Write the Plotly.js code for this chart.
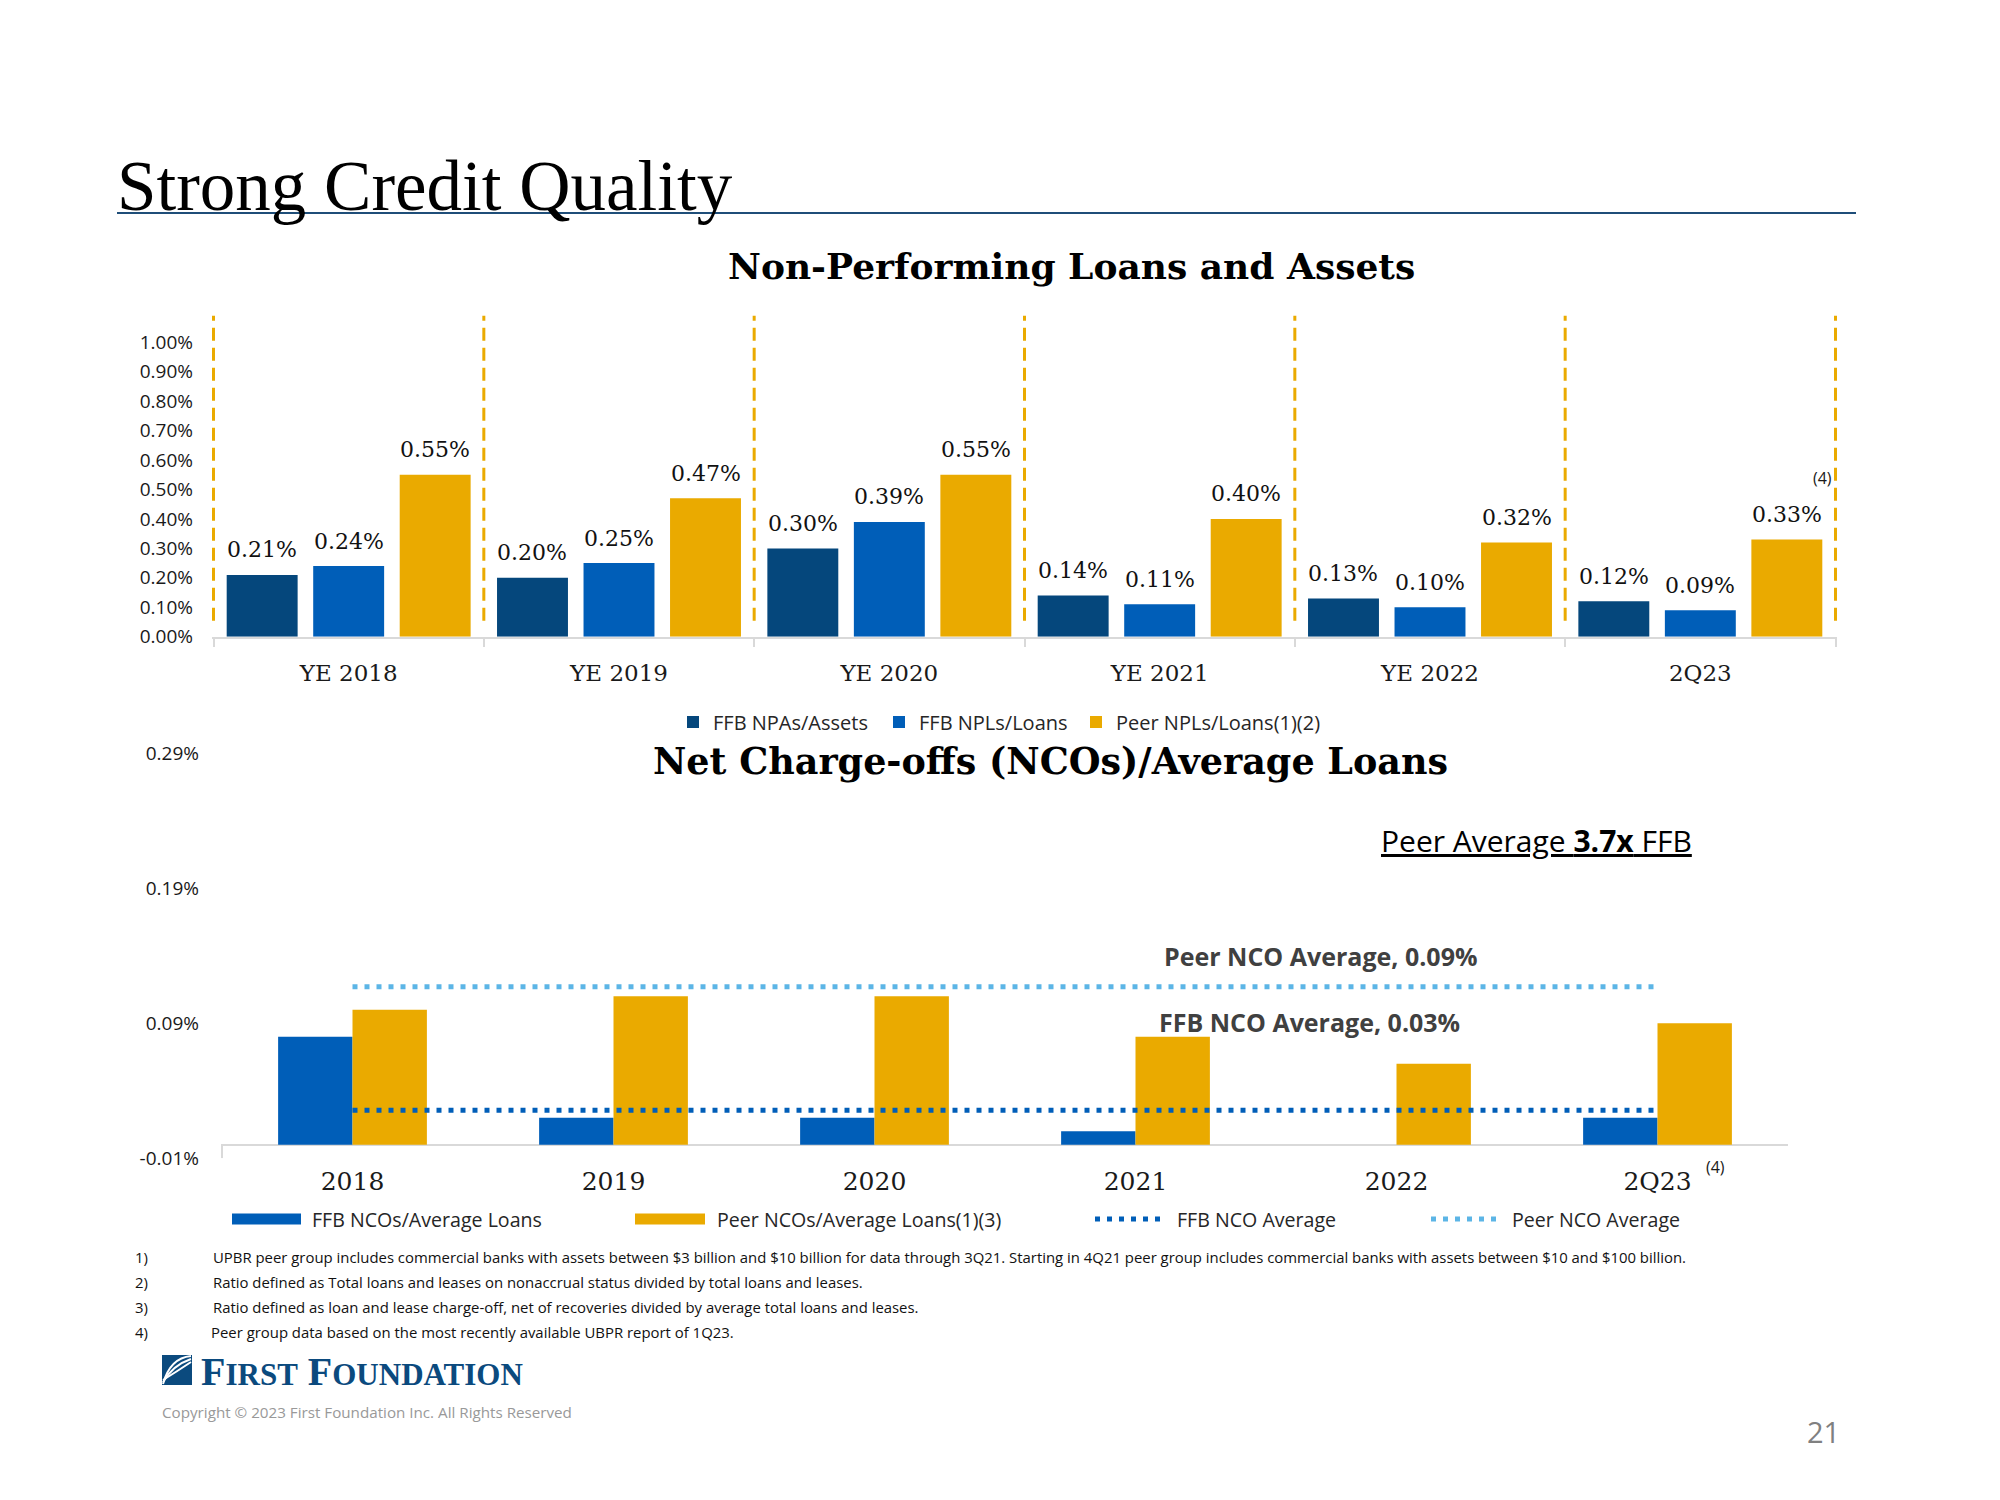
<!DOCTYPE html>
<html>
<head>
<meta charset="utf-8">
<script src="https://cdn.plot.ly/plotly-3.0.1.min.js"></script>
<style>html,body{margin:0;padding:0;background:#fff}#chart{width:2000px;height:1500px}</style>
</head>
<body>
<div id="chart"></div>
<script>
// ---------------- DATA: Non-Performing Loans and Assets ----------------
const npaCategories = ['YE 2018', 'YE 2019', 'YE 2020', 'YE 2021', 'YE 2022', '2Q23'];
const ffbNpaAssets  = [0.21, 0.20, 0.30, 0.14, 0.13, 0.12];
const ffbNplLoans   = [0.24, 0.25, 0.39, 0.11, 0.10, 0.09];
const peerNplLoans  = [0.55, 0.47, 0.55, 0.40, 0.32, 0.33];
const npaSeriesNames = ['FFB NPAs/Assets', 'FFB NPLs/Loans', 'Peer NPLs/Loans(1)(2)'];

// ---------------- DATA: Net Charge-offs / Average Loans ----------------
const ncoCategories = ['2018', '2019', '2020', '2021', '2022', '2Q23'];
const ffbNco        = [0.08, 0.02, 0.02, 0.01, 0.00, 0.02];
const peerNco       = [0.10, 0.11, 0.11, 0.08, 0.06, 0.09];
const ffbNcoAvg     = [0.03, 0.03, 0.03, 0.03, 0.03, 0.03];
const peerNcoAvg    = [0.09, 0.09, 0.09, 0.09, 0.09, 0.09];
const ncoSeriesNames = ['FFB NCOs/Average Loans', 'Peer NCOs/Average Loans(1)(3)', 'FFB NCO Average', 'Peer NCO Average'];
const ncoTickVals = [-0.01, 0.09, 0.19, 0.29];
const ncoTickText = ['-0.01%', '0.09%', '0.19%', '0.29%'];

// ---------------- TEXT ----------------
const footnotes = [
  ['1)', 'UPBR peer group includes commercial banks with assets between $3 billion and $10 billion for data through 3Q21. Starting in 4Q21 peer group includes commercial banks with assets between $10 and $100 billion.'],
  ['2)', 'Ratio defined as Total loans and leases on nonaccrual status divided by total loans and leases.'],
  ['3)', 'Ratio defined as loan and lease charge-off, net of recoveries divided by average total loans and leases.'],
  ['4)', 'Peer group data based on the most recently available UBPR report of 1Q23.']
];

// ---------------- STYLE ----------------
const W = 2000, H = 1500;
const px = v => v / W;
const py = v => 1 - v / H;
const navy = '#05477C', blue = '#005EB8', gold = '#EAAA00', lightBlue = '#5CB5E6';
const serif = 'DejaVu Serif', sans = 'Open Sans';
const txt = '#1a1a1a';

const BARGAP = 0.04, BARGROUPGAP = 0.18;
const slot = (1 - BARGAP) / 3;

const legendIds = ['legend', 'legend2', 'legend3'];
const legendLeft = [673, 879, 1076];

const traces = [];
const topSeries = [ffbNpaAssets, ffbNplLoans, peerNplLoans];
const topColors = [navy, blue, gold];
topSeries.forEach((vals, s) => {
  traces.push({
    type: 'bar', x: npaCategories, y: vals, name: npaSeriesNames[s], legend: legendIds[s],
    marker: {color: topColors[s]}, xaxis: 'x', yaxis: 'y', hoverinfo: 'skip'
  });
});

const ncoW = 0.285;
traces.push({type: 'bar', x: ncoCategories, y: ffbNco, name: ncoSeriesNames[0], width: ncoW, offset: -ncoW,
  marker: {color: blue}, xaxis: 'x2', yaxis: 'y2', showlegend: false, hoverinfo: 'skip'});
traces.push({type: 'bar', x: ncoCategories, y: peerNco, name: ncoSeriesNames[1], width: ncoW, offset: 0,
  marker: {color: gold}, xaxis: 'x2', yaxis: 'y2', showlegend: false, hoverinfo: 'skip'});
traces.push({type: 'scatter', mode: 'lines', x: ncoCategories, y: ffbNcoAvg, name: ncoSeriesNames[2],
  line: {color: blue, width: 5, dash: '5px,7px'}, xaxis: 'x2', yaxis: 'y3', showlegend: false, hoverinfo: 'skip'});
traces.push({type: 'scatter', mode: 'lines', x: ncoCategories, y: peerNcoAvg, name: ncoSeriesNames[3],
  line: {color: lightBlue, width: 5, dash: '5px,7px'}, xaxis: 'x2', yaxis: 'y3', showlegend: false, hoverinfo: 'skip'});

// ---------------- ANNOTATIONS ----------------
const ann = [];
topSeries.forEach((vals, s) => {
  vals.forEach((v, j) => {
    ann.push({x: j + (s - 1) * slot, y: v, xref: 'x', yref: 'y', text: v.toFixed(2) + '%',
      showarrow: false, yanchor: 'middle', yshift: 25, font: {family: serif, size: 22, color: '#111'}});
  });
});
ann.push({x: px(1822), y: py(478), xref: 'paper', yref: 'paper', text: '(4)', showarrow: false,
  xanchor: 'center', yanchor: 'middle', font: {family: sans, size: 16, color: txt}});
ann.push({x: px(1071), y: py(266), xref: 'paper', yref: 'paper', text: '<b>Non-Performing Loans and Assets</b>',
  showarrow: false, xanchor: 'center', yanchor: 'middle', font: {family: serif, size: 36, color: '#000'}});
ann.push({x: px(1050), y: py(761), xref: 'paper', yref: 'paper', text: '<b>Net Charge-offs (NCOs)/Average Loans</b>',
  showarrow: false, xanchor: 'center', yanchor: 'middle', font: {family: serif, size: 36.5, color: '#000'}});
ann.push({x: px(1536), y: py(840), xref: 'paper', yref: 'paper', text: 'Peer Average <b>3.7x</b> FFB',
  showarrow: false, xanchor: 'center', yanchor: 'middle', font: {family: sans, size: 30, color: '#000', lineposition: 'under'}});
ann.push({x: px(1320), y: py(956), xref: 'paper', yref: 'paper', text: '<b>' + ncoSeriesNames[3] + ', ' + peerNcoAvg[0].toFixed(2) + '%</b>',
  showarrow: false, xanchor: 'center', yanchor: 'middle', font: {family: sans, size: 25, color: '#404040'}});
ann.push({x: px(1309), y: py(1022), xref: 'paper', yref: 'paper', text: '<b>' + ncoSeriesNames[2] + ', ' + ffbNcoAvg[0].toFixed(2) + '%</b>',
  showarrow: false, xanchor: 'center', yanchor: 'middle', font: {family: sans, size: 25, color: '#404040'}});
ann.push({x: px(1715), y: py(1167), xref: 'paper', yref: 'paper', text: '(4)', showarrow: false,
  xanchor: 'center', yanchor: 'middle', font: {family: sans, size: 16, color: txt}});

// custom legend for NCO chart
const legX = [[232, 310], [635, 715], [1095, 1175], [1431, 1510]];
const legY = 1219;
ncoSeriesNames.forEach((n, i) => {
  ann.push({x: px(legX[i][1]), y: py(legY), xref: 'paper', yref: 'paper', text: n, showarrow: false,
    xanchor: 'left', yanchor: 'middle', font: {family: sans, size: 19.6, color: '#262626'}});
});

// footnotes
const fnY = [1257, 1282, 1307, 1332];
footnotes.forEach((f, i) => {
  ann.push({x: px(133), y: py(fnY[i]), xref: 'paper', yref: 'paper', text: f[0], showarrow: false,
    xanchor: 'left', yanchor: 'middle', font: {family: sans, size: 14.9, color: '#111'}});
  ann.push({x: px(i === 3 ? 209 : 211), y: py(fnY[i]), xref: 'paper', yref: 'paper', text: f[1], showarrow: false,
    xanchor: 'left', yanchor: 'middle', font: {family: sans, size: 14.9, color: '#111'}});
});

// logo, copyright, page number
ann.push({x: px(199), y: py(1371), xref: 'paper', yref: 'paper', showarrow: false, xanchor: 'left', yanchor: 'middle',
  text: '<b>F<span style="font-size:31px">IRST</span> F<span style="font-size:31px">OUNDATION</span></b>',
  font: {family: 'Liberation Serif', size: 40, color: '#0B4A7E'}});
ann.push({x: px(160), y: py(1412), xref: 'paper', yref: 'paper', showarrow: false, xanchor: 'left', yanchor: 'middle',
  text: 'Copyright © 2023 First Foundation Inc. All Rights Reserved', font: {family: sans, size: 15.2, color: '#999'}});
ann.push({x: px(1823), y: py(1431), xref: 'paper', yref: 'paper', showarrow: false, xanchor: 'center', yanchor: 'middle',
  text: '21', font: {family: sans, size: 29, color: '#808080'}});

// ---------------- SHAPES ----------------
const shapes = [];
// title rule
shapes.push({type: 'line', xref: 'paper', yref: 'paper', x0: px(117), x1: px(1856), y0: py(213), y1: py(213),
  line: {color: '#1F4E79', width: 2}});
// dashed separators between periods
for (let k = 0; k <= npaCategories.length; k++) {
  shapes.push({type: 'line', xref: 'x', yref: 'y domain', x0: k - 0.5, x1: k - 0.5, y0: 0.05, y1: 1,
    line: {color: gold, width: 3, dash: '13px,7px'}});
}
// left tick of NCO axis
shapes.push({type: 'line', xref: 'x2', yref: 'y2', x0: -0.5, x1: -0.5, y0: -0.01, y1: 0,
  line: {color: '#d9d9d9', width: 2}});
// NCO legend symbols
shapes.push({type: 'rect', xref: 'paper', yref: 'paper', x0: px(232), x1: px(301), y0: py(1213.5), y1: py(1224.5),
  line: {width: 0}, fillcolor: blue});
shapes.push({type: 'rect', xref: 'paper', yref: 'paper', x0: px(635), x1: px(705), y0: py(1213.5), y1: py(1224.5),
  line: {width: 0}, fillcolor: gold});
shapes.push({type: 'line', xref: 'paper', yref: 'paper', x0: px(1095), x1: px(1166), y0: py(legY), y1: py(legY),
  line: {color: blue, width: 5, dash: '5px,7px'}});
shapes.push({type: 'line', xref: 'paper', yref: 'paper', x0: px(1431), x1: px(1502), y0: py(legY), y1: py(legY),
  line: {color: lightBlue, width: 5, dash: '5px,7px'}});
// logo mark
const P = (x, y) => px(x) + ',' + py(y);
shapes.push({type: 'path', xref: 'paper', yref: 'paper', line: {width: 0}, fillcolor: '#0B4A7E',
  path: 'M' + P(162, 1355) + ' L' + P(192, 1355) + ' L' + P(192, 1385) + ' L' + P(162, 1385) + ' Z'});
[[1360, 0], [1367, 1], [1374, 2]].forEach(([yy, i]) => {
  shapes.push({type: 'path', xref: 'paper', yref: 'paper', line: {color: '#ffffff', width: 2},
    path: 'M' + P(163, 1384 - i * 2) + ' Q' + P(170 + i * 3, yy - 2) + ' ' + P(191, 1356 + i * 3)});
});

// ---------------- LAYOUT ----------------
const layout = {
  width: W, height: H,
  margin: {l: 0, r: 0, t: 0, b: 0},
  paper_bgcolor: '#ffffff', plot_bgcolor: 'rgba(0,0,0,0)',
  font: {family: sans, color: '#262626'},
  title: {text: 'Strong Credit Quality', x: px(117), xanchor: 'left', xref: 'container',
    y: py(185), yanchor: 'middle', yref: 'container',
    font: {family: 'Liberation Serif', size: 71, color: '#000'}},
  barmode: 'group', bargap: BARGAP, bargroupgap: BARGROUPGAP,
  showlegend: true,
  xaxis: {domain: [px(212), px(1837)], anchor: 'y', type: 'category', tickson: 'boundaries',
    ticks: 'outside', ticklen: 8, tickwidth: 2, tickcolor: '#d9d9d9',
    showline: true, linecolor: '#d9d9d9', linewidth: 2, showgrid: false, zeroline: false,
    tickfont: {family: serif, size: 23, color: txt}, ticklabelstandoff: 15, fixedrange: true},
  yaxis: {domain: [py(636.7), py(315.8)], anchor: 'x', range: [0, 1.09], tick0: 0, dtick: 0.1,
    tickformat: '.2f', ticksuffix: '%', showgrid: false, zeroline: false, showline: false, ticks: '',
    tickfont: {family: sans, size: 19, color: txt}, ticklabelstandoff: 18, fixedrange: true},
  xaxis2: {domain: [px(221), px(1788)], anchor: 'y2', type: 'category', showline: false, ticks: '',
    showgrid: false, zeroline: false, tickfont: {family: serif, size: 25, color: txt}, ticklabelstandoff: 6, fixedrange: true},
  yaxis2: {domain: [py(1158.3), py(753.3)], anchor: 'x2', range: [-0.01, 0.29],
    tickmode: 'array', tickvals: ncoTickVals, ticktext: ncoTickText,
    showgrid: false, zeroline: true, zerolinecolor: '#d9d9d9', zerolinewidth: 2,
    showline: false, ticks: '', tickfont: {family: sans, size: 19, color: txt}, ticklabelstandoff: 21, fixedrange: true},
  yaxis3: {overlaying: 'y2', anchor: 'x2', range: [0.0067, 0.2033], visible: false, fixedrange: true},
  annotations: ann,
  shapes: shapes
};
legendIds.forEach((id, i) => {
  layout[id] = {orientation: 'h', x: px(legendLeft[i]), xanchor: 'left', y: py(722), yanchor: 'middle',
    font: {family: sans, size: 20, color: '#262626'}, bgcolor: 'rgba(0,0,0,0)'};
});

Plotly.newPlot('chart', traces, layout, {staticPlot: true, displayModeBar: false});
</script>
</body>
</html>
